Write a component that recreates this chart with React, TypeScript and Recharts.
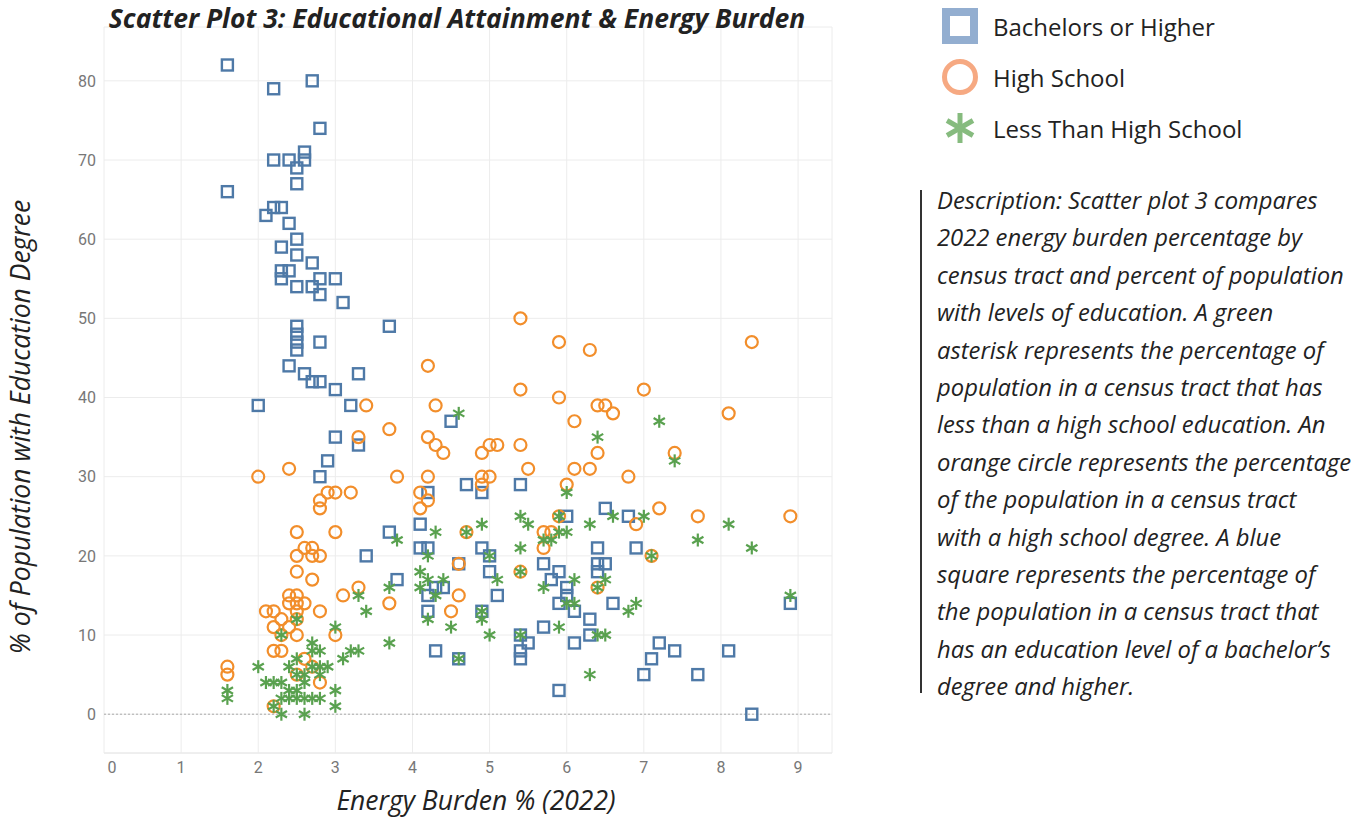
import { ScatterChart, Scatter, XAxis, YAxis, CartesianGrid, ReferenceLine } from 'recharts';

const BLUE = '#4e79a7';
const ORANGE = '#f28e2b';
const GREEN = '#59a14f';

// [energy burden %, % of population]
const bachelors: [number, number][] = [
  [1.6, 82], [2.2, 79], [2.7, 80], [2.8, 74], [1.6, 66], [2.2, 70], [2.4, 70], [2.5, 69], [2.6, 71], [2.6, 70],
  [2.5, 67], [2.2, 64], [2.3, 64], [2.1, 63], [2.4, 62], [2.5, 60], [2.3, 59], [2.5, 58], [2.7, 57], [2.3, 56],
  [2.4, 56], [2.3, 55], [2.8, 55], [3.0, 55], [2.5, 54], [2.7, 54], [2.8, 53], [3.1, 52], [2.5, 49], [2.5, 48],
  [2.5, 47], [2.5, 46], [2.8, 47], [3.7, 49], [2.4, 44], [2.6, 43], [2.7, 42], [2.8, 42], [3.3, 43], [3.0, 41],
  [2.0, 39], [3.2, 39], [4.5, 37], [3.0, 35], [3.3, 34], [2.9, 32], [2.8, 30], [4.7, 29], [5.4, 29], [4.2, 28],
  [4.9, 28], [4.1, 24], [3.7, 23], [4.1, 21], [4.2, 21], [4.9, 21], [5.0, 20], [3.4, 20], [4.6, 19], [5.0, 18],
  [3.8, 17], [4.3, 16], [4.4, 16], [4.2, 15], [5.1, 15], [4.2, 13], [4.9, 13], [5.4, 10], [5.4, 8], [5.4, 7],
  [4.3, 8], [4.6, 7], [5.5, 9], [6.0, 25], [6.5, 26], [6.8, 25], [6.4, 21], [6.9, 21], [5.7, 19], [5.9, 18],
  [6.4, 19], [6.5, 19], [6.4, 18], [5.8, 17], [6.0, 16], [6.0, 15], [5.9, 14], [6.1, 13], [6.6, 14], [6.3, 12],
  [5.7, 11], [6.3, 10], [6.1, 9], [7.2, 9], [7.4, 8], [7.1, 7], [7.0, 5], [7.7, 5], [5.9, 3], [8.4, 0],
  [8.1, 8], [8.9, 14],
];

const highSchool: [number, number][] = [
  [5.4, 50], [5.9, 47], [6.3, 46], [8.4, 47], [4.2, 44], [5.4, 41], [5.9, 40], [7.0, 41], [6.4, 39], [6.5, 39],
  [6.6, 38], [8.1, 38], [6.1, 37], [4.3, 39], [3.4, 39], [3.7, 36], [3.3, 35], [4.2, 35], [4.3, 34], [4.4, 33],
  [5.4, 34], [5.0, 34], [5.1, 34], [4.9, 33], [6.4, 33], [7.4, 33], [5.5, 31], [6.1, 31], [6.3, 31], [6.8, 30],
  [4.9, 30], [5.0, 30], [4.9, 29], [6.0, 29], [2.0, 30], [2.4, 31], [3.8, 30], [4.2, 30], [2.9, 28], [3.0, 28],
  [3.2, 28], [4.1, 28], [4.2, 27], [2.8, 27], [2.8, 26], [4.1, 26], [7.2, 26], [7.7, 25], [8.9, 25], [5.9, 25],
  [6.9, 24], [5.7, 23], [5.8, 23], [5.7, 21], [4.7, 23], [2.5, 23], [3.0, 23], [2.6, 21], [2.7, 21], [2.5, 20],
  [2.7, 20], [2.8, 20], [7.1, 20], [4.6, 19], [5.4, 18], [2.5, 18], [2.7, 17], [3.3, 16], [6.4, 16], [3.1, 15],
  [4.6, 15], [2.4, 15], [2.5, 15], [2.4, 14], [2.5, 14], [2.6, 14], [3.7, 14], [4.5, 13], [2.1, 13], [2.2, 13],
  [2.5, 13], [2.8, 13], [2.3, 12], [2.5, 12], [2.2, 11], [2.4, 11], [2.3, 10], [2.5, 10], [3.0, 10], [2.2, 8],
  [2.3, 8], [1.6, 6], [1.6, 5], [2.6, 7], [2.7, 6], [2.5, 5], [2.8, 4], [2.2, 1],
];

const lessThanHS: [number, number][] = [
  [4.6, 38], [7.2, 37], [6.4, 35], [7.4, 32], [6.0, 28], [5.4, 25], [5.5, 24], [4.9, 24], [6.3, 24], [6.6, 25],
  [7.0, 25], [5.9, 25], [8.1, 24], [7.7, 22], [8.4, 21], [5.4, 21], [4.7, 23], [5.7, 22], [5.8, 22], [5.9, 23],
  [6.0, 23], [7.1, 20], [5.0, 20], [4.3, 23], [3.8, 22], [4.2, 20], [4.1, 18], [4.2, 17], [4.4, 17], [4.1, 16],
  [4.3, 15], [5.1, 17], [5.4, 18], [3.7, 16], [3.3, 15], [3.4, 13], [4.2, 12], [4.5, 11], [4.9, 13], [4.9, 12],
  [5.0, 10], [5.4, 10], [3.7, 9], [4.6, 7], [3.0, 11], [3.2, 8], [3.3, 8], [3.1, 7], [2.9, 6], [3.0, 3],
  [3.0, 1], [5.7, 16], [6.1, 17], [6.5, 17], [6.4, 16], [6.0, 14], [6.1, 14], [6.8, 13], [6.9, 14], [5.9, 11],
  [6.4, 10], [6.5, 10], [6.3, 5], [8.9, 15], [2.5, 12], [2.3, 10], [2.7, 9], [2.7, 8], [2.8, 8], [2.0, 6],
  [2.4, 6], [2.5, 7], [2.7, 6], [2.8, 6], [2.6, 5], [2.5, 5], [2.8, 5], [2.1, 4], [2.2, 4], [2.3, 4],
  [2.6, 4], [2.4, 3], [2.5, 3], [2.3, 2], [2.4, 2], [2.5, 2], [2.6, 2], [2.7, 2], [2.8, 2], [2.2, 1],
  [2.3, 0], [2.6, 0], [1.6, 3], [1.6, 2],
];

const xTicks = [0, 1, 2, 3, 4, 5, 6, 7, 8, 9];
const yTicks = [0, 10, 20, 30, 40, 50, 60, 70, 80];

const descriptionLines = [
  'Description: Scatter plot 3 compares',
  '2022 energy burden percentage by',
  'census tract and percent of population',
  'with levels of education. A green',
  'asterisk represents the percentage of',
  'population in a census tract that has',
  'less than a high school education. An',
  'orange circle represents the percentage',
  'of the population in a census tract',
  'with a high school degree. A blue',
  'square represents the percentage of',
  'the population in a census tract that',
  'has an education level of a bachelor’s',
  'degree and higher.',
];

const toPoints = (rows: [number, number][]) => rows.map(([x, y]) => ({ x, y }));

const FONT = "'Open Sans', 'Noto Sans', sans-serif";
const TICK_FONT = "'Liberation Sans Narrow', Roboto, sans-serif";

function Square(props: any) {
  const { cx, cy } = props;
  return <rect x={cx - 5.5} y={cy - 5.5} width={11} height={11} fill="none" stroke={BLUE} strokeWidth={2.4} />;
}

function Ring(props: any) {
  const { cx, cy } = props;
  return <circle cx={cx} cy={cy} r={6} fill="none" stroke={ORANGE} strokeWidth={2.2} />;
}

function Asterisk(props: any) {
  const { cx, cy } = props;
  const r = 6.5;
  const dx = r * Math.cos(Math.PI / 6);
  const dy = r * Math.sin(Math.PI / 6);
  return (
    <g stroke={GREEN} strokeWidth={2.2}>
      <line x1={cx} y1={cy - r} x2={cx} y2={cy + r} />
      <line x1={cx - dx} y1={cy - dy} x2={cx + dx} y2={cy + dy} />
      <line x1={cx - dx} y1={cy + dy} x2={cx + dx} y2={cy - dy} />
    </g>
  );
}

// x tick: the "0" label sits a little right of the axis edge in the original
function XTick(props: any) {
  const { x, y, payload } = props;
  const shift = payload.value === 0 ? 8 : 0;
  return (
    <text x={x + shift} y={y + 12} textAnchor="middle" fill="#777" fontSize={16} fontFamily={TICK_FONT}>
      {payload.value}
    </text>
  );
}

function LegendIcon({ kind }: { kind: string }) {
  if (kind === 'square') {
    return (
      <svg width={40} height={40}>
        <rect x={6} y={6} width={28} height={28} fill="none" stroke="#93aed0" strokeWidth={8} />
      </svg>
    );
  }
  if (kind === 'circle') {
    return (
      <svg width={40} height={40}>
        <circle cx={20} cy={20} r={15.5} fill="none" stroke="#f6a982" strokeWidth={5} />
      </svg>
    );
  }
  const r = 15;
  const dx = r * Math.cos(Math.PI / 6);
  const dy = r * Math.sin(Math.PI / 6);
  return (
    <svg width={40} height={40}>
      <g stroke="#86bb7e" strokeWidth={5}>
        <line x1={20} y1={20 - r} x2={20} y2={20 + r} />
        <line x1={20 - dx} y1={20 - dy} x2={20 + dx} y2={20 + dy} />
        <line x1={20 - dx} y1={20 + dy} x2={20 + dx} y2={20 - dy} />
      </g>
    </svg>
  );
}

const legendItems = [
  { kind: 'square', label: 'Bachelors or Higher', top: 6 },
  { kind: 'circle', label: 'High School', top: 57 },
  { kind: 'asterisk', label: 'Less Than High School', top: 108 },
];

export default function App() {
  const tickStyle = { fill: '#777', fontSize: 16, fontFamily: TICK_FONT };
  return (
    <div style={{ position: 'absolute', left: 0, top: 0, width: 1356, height: 817, background: '#fff', overflow: 'hidden', fontFamily: FONT }}>
      <div style={{ position: 'absolute', left: 0, top: 0 }}>
        <ScatterChart width={850} height={817} margin={{ top: 27, right: 18, bottom: 34, left: 0 }}>
          <CartesianGrid stroke="#ececec" />
          <XAxis
            type="number"
            dataKey="x"
            domain={[0, 9.44]}
            ticks={xTicks}
            allowDataOverflow
            height={30}
            tickLine={false}
            axisLine={{ stroke: '#e8e8e8' }}
            tick={<XTick />}
          />
          <YAxis
            type="number"
            dataKey="y"
            domain={[-4.9, 86.8]}
            ticks={yTicks}
            allowDataOverflow
            width={104}
            tickLine={false}
            axisLine={false}
            tick={tickStyle}
          />
          <ReferenceLine y={0} stroke="#aaa" strokeDasharray="2 2" />
          <Scatter data={toPoints(bachelors)} shape={(p: any) => <Square {...p} />} isAnimationActive={false} />
          <Scatter data={toPoints(highSchool)} shape={(p: any) => <Ring {...p} />} isAnimationActive={false} />
          <Scatter data={toPoints(lessThanHS)} shape={(p: any) => <Asterisk {...p} />} isAnimationActive={false} />
        </ScatterChart>
      </div>

      <div
        style={{
          position: 'absolute', left: 0, width: 914, top: 0, textAlign: 'center',
          fontSize: 26.5, fontWeight: 700, fontStyle: 'italic', color: '#222',
          whiteSpace: 'nowrap',
        }}
      >
        Scatter Plot 3: Educational Attainment &amp; Energy Burden
      </div>

      <div
        style={{
          position: 'absolute', left: 20, top: 427, transform: 'translate(-50%, -50%) rotate(-90deg)',
          whiteSpace: 'nowrap', fontSize: 26.5, lineHeight: '30px', fontStyle: 'italic', color: '#222',
        }}
      >
        % of Population with Education Degree
      </div>
      <div
        style={{
          position: 'absolute', left: 476, top: 800, transform: 'translate(-50%, -50%)',
          whiteSpace: 'nowrap', fontSize: 26.5, lineHeight: '28px', fontStyle: 'italic', color: '#222',
        }}
      >
        Energy Burden % (2022)
      </div>

      {legendItems.map((item) => (
        <div key={item.label} style={{ position: 'absolute', left: 940, top: item.top, display: 'flex', alignItems: 'center' }}>
          <LegendIcon kind={item.kind} />
          <span style={{ marginLeft: 13, fontSize: 24, color: '#222', whiteSpace: 'nowrap' }}>{item.label}</span>
        </div>
      ))}

      <div style={{ position: 'absolute', left: 920, top: 190, width: 2, height: 503, background: '#333' }} />
      <div style={{ position: 'absolute', left: 937, top: 182 }}>
        {descriptionLines.map((line) => (
          <div key={line} style={{ fontSize: 23.8, lineHeight: '37.4px', fontStyle: 'italic', color: '#222', whiteSpace: 'nowrap' }}>
            {line}
          </div>
        ))}
      </div>
    </div>
  );
}
